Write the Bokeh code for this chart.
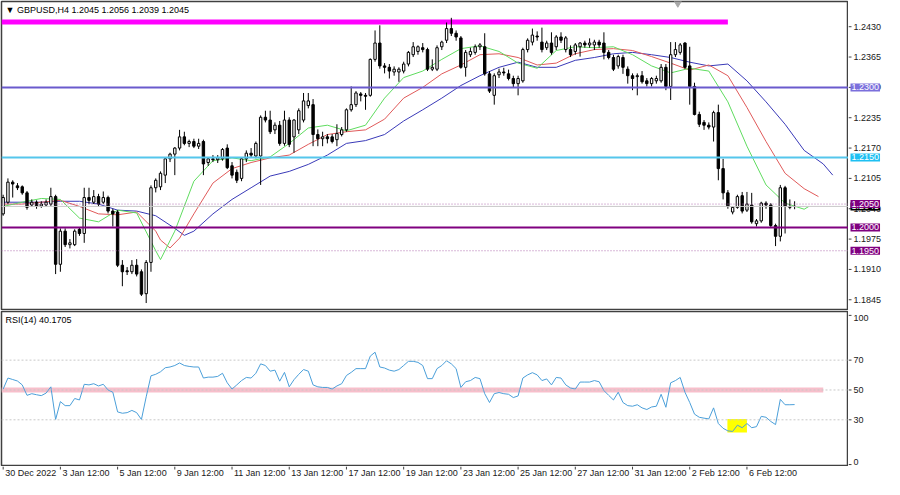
from bokeh.plotting import figure
from bokeh.layouts import column, row
from bokeh.models import Range1d, Label, Span, ColumnDataSource
from bokeh.core.properties import value
from bokeh.embed import file_html
from bokeh.resources import INLINE

# ---------------- data ----------------
symbol_header = "\u25BC GBPUSD,H4  1.2045 1.2056 1.2039 1.2045"
rsi_header = "RSI(14) 40.1705"

open_ = [1.2029, 1.2054, 1.2097, 1.2089, 1.2087, 1.2074, 1.2048, 1.2054, 1.2046, 1.2048,
         1.2050, 1.2066, 1.1921, 1.1992, 1.1963, 1.1963, 1.1996, 1.1987, 1.2064, 1.2054,
         1.2066, 1.2054, 1.2064, 1.2035, 1.2033, 1.1919, 1.1907, 1.1905, 1.1919, 1.1905,
         1.1858, 1.1925, 1.2085, 1.2087, 1.2112, 1.2147, 1.2157, 1.2170, 1.2194, 1.2180,
         1.2184, 1.2174, 1.2184, 1.2139, 1.2147, 1.2145, 1.2147, 1.2170, 1.2132, 1.2118,
         1.2105, 1.2147, 1.2159, 1.2153, 1.2153, 1.2236, 1.2230, 1.2209, 1.2219, 1.2180,
         1.2230, 1.2194, 1.2209, 1.2230, 1.2261, 1.2263, 1.2199, 1.2190, 1.2194, 1.2194,
         1.2188, 1.2199, 1.2209, 1.2252, 1.2263, 1.2286, 1.2283, 1.2283, 1.2360, 1.2395,
         1.2346, 1.2343, 1.2333, 1.2333, 1.2335, 1.2350, 1.2370, 1.2377, 1.2385, 1.2381,
         1.2339, 1.2339, 1.2387, 1.2401, 1.2426, 1.2416, 1.2406, 1.2343, 1.2370, 1.2375,
         1.2387, 1.2387, 1.2329, 1.2283, 1.2327, 1.2333, 1.2329, 1.2319, 1.2308, 1.2314,
         1.2381, 1.2397, 1.2410, 1.2397, 1.2385, 1.2395, 1.2387, 1.2408, 1.2381, 1.2381,
         1.2377, 1.2387, 1.2395, 1.2391, 1.2391, 1.2397, 1.2395, 1.2375, 1.2364, 1.2346,
         1.2364, 1.2339, 1.2325, 1.2323, 1.2325, 1.2314, 1.2308, 1.2314, 1.2314, 1.2343,
         1.2302, 1.2370, 1.2375, 1.2395, 1.2346, 1.2302, 1.2242, 1.2225, 1.2219, 1.2215,
         1.2246, 1.2126, 1.2074, 1.2033, 1.2043, 1.2068, 1.2037, 1.2048, 1.2008, 1.2014,
         1.2052, 1.2048, 1.2004, 1.1981, 1.2085, 1.2045, 1.2045]
high = [1.2070, 1.2105, 1.2101, 1.2095, 1.2090, 1.2078, 1.2060, 1.2058, 1.2056, 1.2060,
        1.2085, 1.2070, 1.1998, 1.1998, 1.1975, 1.1996, 1.2000, 1.2085, 1.2085, 1.2080,
        1.2072, 1.2077, 1.2068, 1.2040, 1.2037, 1.1930, 1.1915, 1.1930, 1.1932, 1.1910,
        1.1930, 1.2090, 1.2105, 1.2120, 1.2150, 1.2160, 1.2172, 1.2209, 1.2205, 1.2188,
        1.2190, 1.2190, 1.2188, 1.2150, 1.2155, 1.2155, 1.2170, 1.2178, 1.2140, 1.2124,
        1.2150, 1.2165, 1.2170, 1.2184, 1.2240, 1.2250, 1.2250, 1.2225, 1.2228, 1.2250,
        1.2236, 1.2232, 1.2255, 1.2288, 1.2288, 1.2275, 1.2210, 1.2205, 1.2200, 1.2200,
        1.2221, 1.2215, 1.2255, 1.2302, 1.2292, 1.2290, 1.2288, 1.2362, 1.2422, 1.2433,
        1.2352, 1.2350, 1.2345, 1.2343, 1.2355, 1.2378, 1.2397, 1.2390, 1.2395, 1.2385,
        1.2360, 1.2390, 1.2400, 1.2439, 1.2449, 1.2422, 1.2410, 1.2380, 1.2385, 1.2392,
        1.2395, 1.2416, 1.2335, 1.2330, 1.2340, 1.2342, 1.2338, 1.2325, 1.2325, 1.2385,
        1.2405, 1.2426, 1.2420, 1.2428, 1.2400, 1.2418, 1.2412, 1.2418, 1.2410, 1.2390,
        1.2395, 1.2397, 1.2400, 1.2405, 1.2402, 1.2402, 1.2418, 1.2380, 1.2370, 1.2370,
        1.2370, 1.2345, 1.2330, 1.2330, 1.2335, 1.2320, 1.2322, 1.2325, 1.2350, 1.2350,
        1.2397, 1.2397, 1.2395, 1.2397, 1.2387, 1.2310, 1.2248, 1.2230, 1.2225, 1.2250,
        1.2263, 1.2147, 1.2080, 1.2045, 1.2070, 1.2076, 1.2076, 1.2074, 1.2018, 1.2055,
        1.2056, 1.2052, 1.2008, 1.2091, 1.2089, 1.2060, 1.2056]
low = [1.2025, 1.2050, 1.2064, 1.2080, 1.2070, 1.2038, 1.2044, 1.2040, 1.2042, 1.2045,
       1.2046, 1.1900, 1.1905, 1.1958, 1.1955, 1.1960, 1.1982, 1.1967, 1.2050, 1.2050,
       1.2045, 1.2050, 1.2030, 1.2002, 1.1915, 1.1874, 1.1898, 1.1900, 1.1895, 1.1853,
       1.1838, 1.1905, 1.2075, 1.2080, 1.2095, 1.2140, 1.2112, 1.2165, 1.2176, 1.2172,
       1.2170, 1.2168, 1.2112, 1.2132, 1.2140, 1.2138, 1.2143, 1.2125, 1.2105, 1.2095,
       1.2099, 1.2140, 1.2150, 1.2148, 1.2091, 1.2225, 1.2200, 1.2200, 1.2175, 1.2175,
       1.2172, 1.2160, 1.2200, 1.2225, 1.2255, 1.2174, 1.2174, 1.2174, 1.2180, 1.2180,
       1.2174, 1.2195, 1.2205, 1.2248, 1.2258, 1.2270, 1.2252, 1.2280, 1.2355, 1.2340,
       1.2330, 1.2319, 1.2325, 1.2312, 1.2330, 1.2345, 1.2365, 1.2370, 1.2375, 1.2335,
       1.2335, 1.2335, 1.2380, 1.2395, 1.2410, 1.2400, 1.2340, 1.2323, 1.2365, 1.2370,
       1.2380, 1.2325, 1.2288, 1.2263, 1.2320, 1.2325, 1.2315, 1.2300, 1.2283, 1.2310,
       1.2375, 1.2390, 1.2400, 1.2375, 1.2380, 1.2370, 1.2380, 1.2395, 1.2375, 1.2365,
       1.2370, 1.2366, 1.2385, 1.2385, 1.2380, 1.2385, 1.2360, 1.2360, 1.2335, 1.2340,
       1.2329, 1.2308, 1.2294, 1.2283, 1.2308, 1.2302, 1.2302, 1.2308, 1.2310, 1.2294,
       1.2273, 1.2365, 1.2370, 1.2340, 1.2263, 1.2240, 1.2215, 1.2209, 1.2210, 1.2184,
       1.2101, 1.2060, 1.2040, 1.2028, 1.2040, 1.2030, 1.2033, 1.2008, 1.2002, 1.2010,
       1.2040, 1.2000, 1.1960, 1.1970, 1.1987, 1.2039, 1.2039]
close = [1.2064, 1.2097, 1.2093, 1.2085, 1.2074, 1.2043, 1.2054, 1.2046, 1.2050, 1.2054,
         1.2066, 1.1921, 1.1992, 1.1963, 1.1967, 1.1992, 1.1987, 1.2064, 1.2058, 1.2066,
         1.2050, 1.2064, 1.2035, 1.2029, 1.1919, 1.1905, 1.1905, 1.1919, 1.1900, 1.1857,
         1.1925, 1.2085, 1.2101, 1.2116, 1.2147, 1.2157, 1.2170, 1.2194, 1.2180, 1.2184,
         1.2174, 1.2180, 1.2136, 1.2147, 1.2145, 1.2149, 1.2167, 1.2128, 1.2112, 1.2101,
         1.2147, 1.2159, 1.2155, 1.2180, 1.2236, 1.2230, 1.2205, 1.2219, 1.2180, 1.2230,
         1.2178, 1.2230, 1.2250, 1.2271, 1.2271, 1.2199, 1.2190, 1.2194, 1.2190, 1.2184,
         1.2201, 1.2209, 1.2252, 1.2263, 1.2288, 1.2283, 1.2281, 1.2360, 1.2395, 1.2346,
         1.2343, 1.2335, 1.2339, 1.2339, 1.2350, 1.2375, 1.2387, 1.2387, 1.2381, 1.2339,
         1.2343, 1.2385, 1.2397, 1.2426, 1.2416, 1.2408, 1.2343, 1.2375, 1.2377, 1.2387,
         1.2391, 1.2329, 1.2292, 1.2325, 1.2333, 1.2331, 1.2319, 1.2308, 1.2319, 1.2381,
         1.2401, 1.2412, 1.2408, 1.2381, 1.2395, 1.2375, 1.2408, 1.2401, 1.2406, 1.2370,
         1.2391, 1.2395, 1.2391, 1.2395, 1.2397, 1.2391, 1.2375, 1.2364, 1.2339, 1.2366,
         1.2343, 1.2325, 1.2319, 1.2325, 1.2312, 1.2308, 1.2319, 1.2319, 1.2343, 1.2302,
         1.2370, 1.2381, 1.2391, 1.2343, 1.2302, 1.2242, 1.2221, 1.2219, 1.2215, 1.2246,
         1.2126, 1.2074, 1.2045, 1.2043, 1.2066, 1.2035, 1.2050, 1.2012, 1.2014, 1.2052,
         1.2048, 1.2004, 1.1981, 1.2085, 1.2045, 1.2043, 1.2045]

# Alligator lines (already shifted forward as drawn), sampled bar positions
lips_bar = [0, 4, 8, 12, 16, 20, 24, 28, 32, 33, 36, 40, 44, 48, 52, 56, 60, 64, 68, 72,
            76, 80, 84, 88, 92, 96, 100, 104, 108, 112, 116, 120, 124, 128, 132, 136, 140,
            144, 148, 152, 156, 160, 164, 168, 169]
lips_val = [1.2045, 1.2054, 1.2062, 1.2060, 1.2020, 1.2012, 1.2037, 1.2031, 1.1950, 1.1931,
            1.1992, 1.2099, 1.2143, 1.2149, 1.2143, 1.2151, 1.2180, 1.2213, 1.2219, 1.2207,
            1.2219, 1.2277, 1.2321, 1.2335, 1.2360, 1.2383, 1.2389, 1.2377, 1.2352, 1.2341,
            1.2379, 1.2387, 1.2385, 1.2387, 1.2370, 1.2346, 1.2331, 1.2341, 1.2335, 1.2269,
            1.2174, 1.2091, 1.2052, 1.2039, 1.2045]
teeth_bar = [0, 4, 8, 12, 16, 20, 24, 28, 32, 33, 35, 37, 40, 44, 48, 52, 56, 60, 64, 68,
             72, 76, 80, 84, 88, 92, 96, 100, 104, 108, 112, 116, 120, 124, 128, 132, 136,
             140, 144, 148, 152, 156, 160, 164, 168, 171]
teeth_val = [1.2050, 1.2050, 1.2054, 1.2058, 1.2045, 1.2029, 1.2027, 1.2033, 1.1992, 1.1973,
             1.1956, 1.1977, 1.2029, 1.2095, 1.2126, 1.2139, 1.2149, 1.2155, 1.2178, 1.2199,
             1.2205, 1.2209, 1.2232, 1.2277, 1.2300, 1.2329, 1.2348, 1.2370, 1.2372, 1.2364,
             1.2348, 1.2352, 1.2372, 1.2381, 1.2383, 1.2379, 1.2366, 1.2352, 1.2337, 1.2348,
             1.2325, 1.2257, 1.2184, 1.2116, 1.2083, 1.2066]
jaw_bar = [0, 4, 8, 12, 16, 20, 24, 28, 32, 36, 38, 40, 44, 48, 52, 56, 60, 64, 68, 72,
           76, 80, 84, 88, 92, 96, 100, 104, 108, 112, 116, 120, 124, 128, 132, 136, 140,
           144, 148, 152, 156, 160, 164, 168, 172, 174]
jaw_val = [1.2054, 1.2054, 1.2054, 1.2056, 1.2056, 1.2050, 1.2037, 1.2035, 1.2025, 1.1998,
           1.1983, 1.1992, 1.2029, 1.2060, 1.2085, 1.2110, 1.2120, 1.2135, 1.2155, 1.2180,
           1.2186, 1.2199, 1.2228, 1.2252, 1.2277, 1.2304, 1.2325, 1.2343, 1.2354, 1.2343,
           1.2343, 1.2358, 1.2364, 1.2372, 1.2375, 1.2370, 1.2364, 1.2354, 1.2346, 1.2350,
           1.2314, 1.2269, 1.2221, 1.2165, 1.2136, 1.2112]

rsi = [50.6, 58, 57, 56, 53.4, 46.4, 47.5, 46.8, 46.2, 47.9,
       52.1, 30.2, 42.2, 39.5, 39.5, 44.3, 43.3, 53.8, 53.4, 54.2,
       52.7, 53.8, 50, 48.5, 35.3, 34.4, 34.8, 36.3, 34.8, 30.2,
       45.4, 59.5, 60.5, 62.2, 64.9, 65.4, 66.4, 68.1, 66.4, 65.8,
       65.4, 65.4, 58, 58.6, 58.6, 59.1, 61.2, 54.8, 50.6, 53.4,
       56.3, 58.4, 58, 61.2, 67.5, 66.4, 62.6, 63.3, 55.9, 61.8,
       52.1, 56.9, 60.5, 63.7, 62.6, 53.4, 52.1, 51.7, 51.7, 50.6,
       52.7, 54.2, 59.7, 61.8, 64.3, 64.3, 64.3, 72.7, 75.3, 65.4,
       64.7, 63.3, 62.6, 63.7, 66.4, 69.2, 69.2, 68.5, 66.4, 57.6,
       57.6, 64.3, 66.4, 69.6, 67.5, 64.3, 51.7, 55.5, 56.3, 58.4,
       57.6, 47.5, 41.6, 47.5, 48.3, 47.5, 47.1, 44.9, 46, 58,
       60.1, 61.6, 60.1, 56.3, 57.4, 53.4, 58.4, 58, 53.4, 51.3,
       50.6, 55.3, 55.3, 55.3, 56.3, 55.5, 49.6, 46.4, 43.3, 48.5,
       41.6, 39.5, 39.1, 40.1, 38, 36.9, 38.6, 39.1, 47.1, 38.4,
       54.8, 56.3, 58.4, 48.5, 41.6, 33.8, 31.7, 31.1, 30.6, 38,
       27.5, 24.3, 22.6, 22.2, 26.4, 24.7, 27.5, 24.7, 25.4, 32.3,
       31.7, 28.9, 26.8, 43.7, 40.1, 40.1, 40.2]

date_tick_bars = [0, 12, 24, 36, 48, 60, 72, 84, 96, 108, 120, 132, 144, 156]
date_tick_labels = ["30 Dec 2022", "3 Jan 12:00", "5 Jan 12:00", "9 Jan 12:00", "11 Jan 12:00",
                    "13 Jan 12:00", "17 Jan 12:00", "19 Jan 12:00", "23 Jan 12:00", "25 Jan 12:00",
                    "27 Jan 12:00", "31 Jan 12:00", "2 Feb 12:00", "6 Feb 12:00"]
price_ticks = [1.1845, 1.1910, 1.1975, 1.2040, 1.2105, 1.2170, 1.2235, 1.2300, 1.2365, 1.2430]
rsi_ticks = [0, 30, 50, 70, 100]
rsi_levels = [30, 50, 70]

resistance_top = 1.2440
resistance_top_end_bar = 152
level_solid = [1.2300, 1.2150, 1.2000]
level_dotted = [1.2050, 1.1950]
bid_price = 1.2045
rsi_mid_level = 50
rsi_mid_end_bar = 172
rsi_box_bars = [151.9, 156.0]
rsi_box_vals = [21.5, 30.5]
shift_marker_bar = 141.5

# ---------------- layout constants ----------------
FONT = "Liberation Sans"
MAIN_W, SIDE_W = 848, 36
H_MAIN, H_RSI, H_DATE = 310, 156, 13
X0, X1 = -0.35, 177.3
x_range = Range1d(X0, X1)
PY0, PY1 = 1.1822, 1.2484
RY0, RY1 = -1.3, 102.6
AX = "#404040"
TXT = "#202020"


def bare(fig):
    fig.grid.visible = False
    fig.background_fill_color = "white"
    fig.border_fill_color = "white"
    return fig


# ---------------- main price panel ----------------
p = bare(figure(width=MAIN_W, height=H_MAIN, x_range=x_range, y_range=Range1d(PY0, PY1),
                output_backend="svg", toolbar_location=None, x_axis_location=None,
                y_axis_location=None, min_border_left=1, min_border_right=0,
                min_border_top=1, min_border_bottom=0))
p.outline_line_color = AX
p.outline_line_width = 1.5

p.segment(x0=[X0], y0=[resistance_top], x1=[resistance_top_end_bar], y1=[resistance_top],
          line_color="#ff00ff", line_width=5)
solid_colors = ["#6a5acd", "#55c6ec", "#800080"]
for lv, col in zip(level_solid, solid_colors):
    p.add_layout(Span(location=lv, dimension="width", line_color=col, line_width=2))
p.add_layout(Span(location=bid_price, dimension="width", line_color="#c8c8c8", line_width=1))
for lv in level_dotted:
    p.add_layout(Span(location=lv, dimension="width", line_color="#b070b0",
                      line_width=1, line_dash="1 2"))

p.line(jaw_bar, jaw_val, line_color="#3a3ab8", line_width=1)
p.line(teeth_bar, teeth_val, line_color="#e05a5a", line_width=1)
p.line(lips_bar, lips_val, line_color="#5fdc5f", line_width=1)

bars = list(range(len(close)))
src = ColumnDataSource(dict(
    x=bars,
    top=[max(o, c) for o, c in zip(open_, close)],
    bottom=[min(o, c) for o, c in zip(open_, close)],
    fill=["white" if c >= o else "black" for o, c in zip(open_, close)],
    high=high, low=low))
p.segment(x0="x", y0="low", x1="x", y1="high", line_color="black", line_width=1, source=src)
p.vbar(x="x", width=0.5, top="top", bottom="bottom", fill_color="fill",
       line_color="black", line_width=1, source=src)

p.scatter(x=[shift_marker_bar], y=[PY1], marker="inverted_triangle", size=10,
          fill_color="#a8a8a8", line_color="#a8a8a8")

p.add_layout(Label(x=X0, y=PY1, x_offset=4, y_offset=-3, text=symbol_header,
                   text_baseline="top", text_align="left", text_font=FONT,
                   text_font_size="9px", text_color="black"))

# ---------------- price scale side panel ----------------
ps = bare(figure(width=SIDE_W, height=H_MAIN, x_range=Range1d(0, SIDE_W), y_range=p.y_range,
                 output_backend="svg", toolbar_location=None, x_axis_location=None,
                 y_axis_location=None, min_border_left=0, min_border_right=0,
                 min_border_top=1, min_border_bottom=0))
ps.outline_line_color = None
ps.segment(x0=0, x1=3, y0=price_ticks, y1=price_ticks, line_color=AX, line_width=1)
ps.text(x=5, y=price_ticks, text=[f"{t:.4f}" for t in price_ticks], text_font=value(FONT),
        text_font_size="9px", text_color=TXT, text_baseline="middle", text_align="left")


def price_box(val, bg, txt, dy=0):
    ps.add_layout(Label(x=1, y=val, x_offset=1, y_offset=dy, text=txt,
                        text_baseline="middle", text_align="left", text_font=FONT,
                        text_font_size="9px", text_color="white",
                        background_fill_color=bg, padding=1))


price_box(level_solid[0], "#7b6fdc", "1.2300")
price_box(level_solid[1], "#1ec0f2", "1.2150")
price_box(bid_price, "black", "1.2045")
price_box(level_dotted[0], "#800080", "1.2050")
price_box(level_solid[2], "#800080", "1.2000")
price_box(level_dotted[1], "#800080", "1.1950")

# ---------------- RSI panel ----------------
r = bare(figure(width=MAIN_W, height=H_RSI, x_range=x_range, y_range=Range1d(RY0, RY1),
                output_backend="svg", toolbar_location=None, x_axis_location=None,
                y_axis_location=None, min_border_left=1, min_border_right=0,
                min_border_top=1, min_border_bottom=0))
r.outline_line_color = AX
r.outline_line_width = 1.5
for lv in rsi_levels:
    r.add_layout(Span(location=lv, dimension="width", line_color="#c8c8c8",
                      line_width=1, line_dash="2 2"))
r.segment(x0=[X0], y0=[rsi_mid_level], x1=[rsi_mid_end_bar], y1=[rsi_mid_level],
          line_color="#f7bfcb", line_width=5)
r.quad(left=[rsi_box_bars[0]], right=[rsi_box_bars[1]], bottom=[rsi_box_vals[0]],
       top=[rsi_box_vals[1]], fill_color="#ffff00", line_color=None)
r.line(bars, rsi, line_color="#4b9fd9", line_width=1)
r.add_layout(Label(x=X0, y=RY1, x_offset=4, y_offset=-3, text=rsi_header,
                   text_baseline="top", text_align="left", text_font=FONT,
                   text_font_size="9px", text_color="black"))

rs = bare(figure(width=SIDE_W, height=H_RSI, x_range=Range1d(0, SIDE_W), y_range=r.y_range,
                 output_backend="svg", toolbar_location=None, x_axis_location=None,
                 y_axis_location=None, min_border_left=0, min_border_right=0,
                 min_border_top=1, min_border_bottom=0))
rs.outline_line_color = None
rs.segment(x0=0, x1=3, y0=rsi_ticks, y1=rsi_ticks, line_color=AX, line_width=1)
mid_ticks = [t for t in rsi_ticks if 0 < t < 100]
rs.text(x=5, y=mid_ticks, text=[str(t) for t in mid_ticks], text_font=value(FONT),
        text_font_size="9px", text_color=TXT, text_baseline="middle", text_align="left")
rs.text(x=5, y=[max(rsi_ticks)], text=[str(max(rsi_ticks))], text_font=value(FONT),
        text_font_size="9px", text_color=TXT, text_baseline="top", text_align="left")
rs.text(x=5, y=[min(rsi_ticks)], text=[str(min(rsi_ticks))], text_font=value(FONT),
        text_font_size="9px", text_color=TXT, text_baseline="bottom", text_align="left")

# ---------------- date strip ----------------
d = bare(figure(width=MAIN_W, height=H_DATE, x_range=x_range, y_range=Range1d(0, H_DATE),
                output_backend="svg", toolbar_location=None, x_axis_location=None,
                y_axis_location=None, min_border_left=1, min_border_right=0,
                min_border_top=0, min_border_bottom=0))
d.outline_line_color = None
d.segment(x0=date_tick_bars, x1=date_tick_bars, y0=H_DATE, y1=H_DATE - 3,
          line_color=AX, line_width=1)
d.text(x=date_tick_bars, y=H_DATE - 1.5, text=date_tick_labels, x_offset=2,
       text_font=value(FONT), text_font_size="9px", text_color=TXT,
       text_baseline="top", text_align="left")

layout = column(row(p, ps, spacing=0), row(r, rs, spacing=0), d, spacing=0)
open("out.html", "w").write(file_html(layout, INLINE))
